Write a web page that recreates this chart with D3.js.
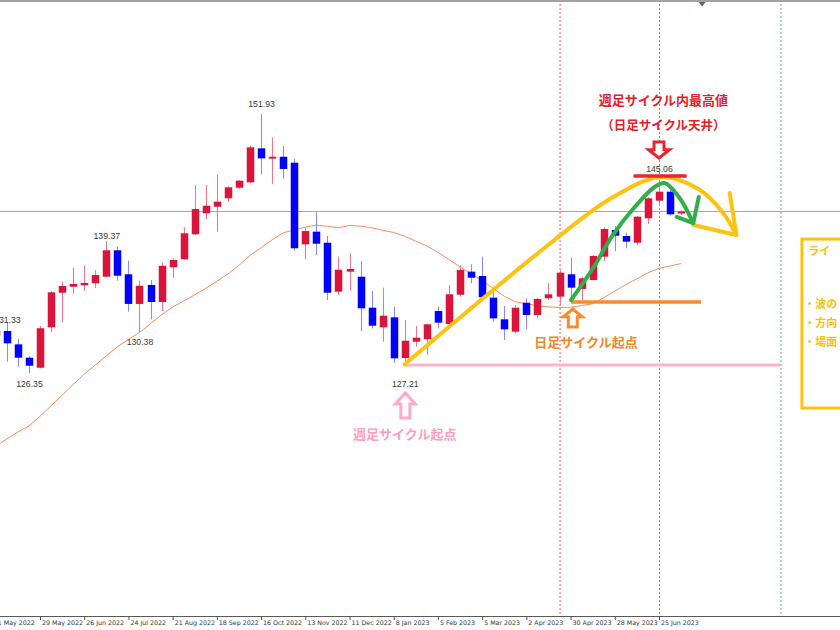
<!DOCTYPE html>
<html><head><meta charset="utf-8">
<script src="https://cdn.jsdelivr.net/npm/d3@7"></script>
<style>html,body{margin:0;padding:0;background:#fff;overflow:hidden}svg{display:block}</style>
</head><body><svg id="c" width="840" height="630"></svg>
<script>
// ---------- DATA ----------
const weeks = ["2022-05-01","2022-05-08","2022-05-15","2022-05-22","2022-05-29","2022-06-05","2022-06-12","2022-06-19","2022-06-26","2022-07-03","2022-07-10","2022-07-17","2022-07-24","2022-07-31","2022-08-07","2022-08-14","2022-08-21","2022-08-28","2022-09-04","2022-09-11","2022-09-18","2022-09-25","2022-10-02","2022-10-09","2022-10-16","2022-10-23","2022-10-30","2022-11-06","2022-11-13","2022-11-20","2022-11-27","2022-12-04","2022-12-11","2022-12-18","2022-12-25","2023-01-01","2023-01-08","2023-01-15","2023-01-22","2023-01-29","2023-02-05","2023-02-12","2023-02-19","2023-02-26","2023-03-05","2023-03-12","2023-03-19","2023-03-26","2023-04-02","2023-04-09","2023-04-16","2023-04-23","2023-04-30","2023-05-07","2023-05-14","2023-05-21","2023-05-28","2023-06-04","2023-06-11","2023-06-18","2023-06-25","2023-07-02","2023-07-09"];
const open  = [130.00,130.50,129.18,127.86,126.87,130.86,134.28,134.87,135.01,135.21,135.86,138.47,136.10,133.17,135.04,133.36,136.79,137.58,140.05,142.12,142.77,143.60,144.65,145.18,148.54,147.52,147.71,147.12,139.06,140.31,139.22,134.38,136.36,135.86,132.80,130.86,131.85,127.83,129.44,129.68,132.47,131.19,134.08,136.36,135.93,133.79,131.65,130.43,133.29,132.08,133.73,133.89,136.10,134.65,135.53,137.84,140.47,139.88,139.22,141.63,143.37,144.26,142.10];
const high  = [131.00,131.33,129.71,128.03,130.99,134.45,135.37,136.75,136.95,136.52,139.37,138.82,137.44,135.47,135.53,137.24,137.68,140.74,144.92,144.92,145.91,144.82,145.41,148.80,151.93,149.63,148.77,147.49,140.70,142.22,139.88,137.84,138.17,137.41,134.45,134.78,132.90,131.58,130.99,131.20,132.90,135.04,137.02,137.09,137.84,134.72,132.97,133.07,133.73,133.79,135.21,136.52,137.74,135.86,138.00,140.74,140.87,140.21,141.86,143.70,145.06,144.42,142.45];
const low   = [129.80,127.47,126.97,126.35,126.80,130.37,131.36,134.15,134.45,134.74,135.80,135.47,132.40,130.38,131.65,132.47,135.76,137.50,139.98,141.53,140.30,143.27,144.51,145.10,145.97,145.02,145.54,138.43,137.58,138.00,133.56,134.05,134.48,130.50,130.76,129.44,127.37,127.21,128.95,128.13,130.76,131.10,133.89,135.21,133.73,131.42,129.61,130.27,130.66,131.75,133.56,133.07,133.73,133.56,135.50,137.41,138.40,138.67,138.99,141.07,142.94,141.90,141.95];
const close = [130.50,129.28,127.86,127.07,130.77,134.32,134.94,135.14,135.24,136.03,138.47,135.96,133.17,134.97,133.36,136.94,137.51,140.15,142.55,142.87,143.27,144.69,145.34,148.64,147.55,147.71,146.50,138.67,140.37,139.12,134.28,136.55,136.62,132.74,131.02,132.01,127.80,129.54,129.84,131.16,131.32,134.12,136.52,135.76,133.83,131.75,130.66,132.80,132.08,133.66,134.12,136.26,134.78,135.70,137.91,140.57,139.91,139.32,141.79,143.60,144.26,142.02,142.30];
const movingAvg = [119.14,119.83,120.52,121.12,122.07,123.12,124.16,125.20,126.23,127.14,128.04,128.95,129.66,130.36,131.22,132.10,132.86,133.47,134.07,134.71,135.42,136.13,136.99,137.95,138.72,139.50,140.20,140.48,140.76,140.95,140.85,140.69,140.92,140.86,140.70,140.44,140.23,139.85,139.37,138.89,138.27,137.55,136.82,136.16,135.50,134.69,133.93,133.39,133.19,132.99,132.88,132.82,132.84,133.02,133.19,133.78,134.44,135.08,135.66,136.24,136.68,136.92,137.16];
const tickLabels = ["1 May 2022","29 May 2022","26 Jun 2022","24 Jul 2022","21 Aug 2022","18 Sep 2022","16 Oct 2022","13 Nov 2022","11 Dec 2022","8 Jan 2023","5 Feb 2023","5 Mar 2023","2 Apr 2023","30 Apr 2023","28 May 2023","25 Jun 2023"];
const priceLabelWeeks  = ["2022-05-08","2022-05-22","2022-07-10","2022-07-31","2022-10-16","2023-01-15","2023-06-25"];
const priceLabelValues = [131.33,126.35,139.37,130.38,151.93,127.21,145.06];
const currentPrice = 142.35;
// annotation paths in (candle index, price)
const yellowArc   = [[37.0,127.21],[43.9,133.56],[50.2,139.19],[55.7,143.63],[60.2,145.71],[63.6,144.5],[65.7,142.3],[67.0,139.98]];
const yellowHead  = [[63.1,140.97],[67.0,139.98],[66.4,144.13]];
const greenArc    = [[52.05,133.56],[54.1,136.82],[55.7,139.78],[57.8,142.74],[59.6,144.72],[60.5,145.11],[61.8,143.73],[63.1,141.16]];
const greenHead   = [[61.6,141.76],[63.1,141.16],[63.6,143.73]];
const redLevel    = {from:57.7, to:62.5, price:145.81};
const orangeLevel = {from:52.05, to:63.8, price:133.36};
const pinkLevel   = {from:37.0, to:71.0, price:127.14};
const vMarks      = {red:51.05, blue:60, lightBlue:71.03, shift:63.9};
const titleTexts  = ["週足サイクル内最高値","（日足サイクル天井）"];
const weeklyText  = "週足サイクル起点";
const dailyText   = "日足サイクル起点";
const boxTexts    = ["ライ","・波の","・方向","・場面"];

// ---------- SCALES ----------
const svg = d3.select("#c");
const W = 840, H = 630, axisY = 616;
const pD = d3.utcParse("%Y-%m-%d"), pT = d3.utcParse("%d %b %Y");
const x  = d3.scaleUtc().domain([pD("2022-05-29"), pD("2023-06-25")]).range([40, 659]);
const xi = d3.scaleLinear().domain([4, 60]).range([40, 659]);
const y  = d3.scaleLinear().domain([102.35, 163.19]).range([616, 0]);
const candles = weeks.map((w,i)=>({d:pD(w),o:open[i],h:high[i],l:low[i],c:close[i],ma:movingAvg[i]}));

svg.append("rect").attr("width",W).attr("height",H).attr("fill","#fff");
svg.append("defs").append("clipPath").attr("id","clip").append("rect").attr("x",0).attr("y",2).attr("width",W).attr("height",axisY-2);
const g = svg.append("g").attr("clip-path","url(#clip)");

// vertical markers
g.append("line").attr("x1",xi(vMarks.red)).attr("x2",xi(vMarks.red)).attr("y1",0).attr("y2",axisY)
  .attr("stroke","#ff5a5a").attr("stroke-width",1).attr("stroke-dasharray","2,2");
g.append("line").attr("x1",Math.round(xi(vMarks.blue))+0.5).attr("x2",Math.round(xi(vMarks.blue))+0.5).attr("y1",0).attr("y2",axisY)
  .attr("stroke","#4f9bf5").attr("stroke-width",1).attr("stroke-dasharray","2,2");
g.append("line").attr("x1",xi(vMarks.lightBlue)).attr("x2",xi(vMarks.lightBlue)).attr("y1",0).attr("y2",axisY)
  .attr("stroke","#a6ccff").attr("stroke-width",2).attr("stroke-dasharray","2,2");
// current price line
g.append("line").attr("x1",0).attr("x2",W).attr("y1",Math.round(y(currentPrice))+0.5).attr("y2",Math.round(y(currentPrice))+0.5)
  .attr("stroke","#a4abb4").attr("stroke-width",1);

// moving average
g.append("path").datum(candles).attr("fill","none").attr("stroke","#ff8a5c").attr("stroke-width",1)
  .attr("d", d3.line().x(d=>x(d.d)).y(d=>y(d.ma)));

// candles
const bw = 7.5;
const cg = g.append("g");
candles.forEach(d=>{
  const up = d.c >= d.o;
  const cx = Math.round(x(d.d));
  cg.append("line").attr("x1",cx+0.5).attr("x2",cx+0.5).attr("y1",y(d.h)).attr("y2",y(d.l))
    .attr("stroke", up ? "#ee7890" : "#8a8aff").attr("stroke-width",1.1);
  const top = y(Math.max(d.o,d.c)), bot = y(Math.min(d.o,d.c));
  cg.append("rect").attr("x",cx+0.5-bw/2).attr("y",top).attr("width",bw).attr("height",Math.max(1.5,bot-top))
    .attr("fill", up ? "#dc143c" : "#0000ff");
});

// levels
function level(L,color,w){
  g.append("line").attr("x1",xi(L.from)).attr("x2",xi(L.to)).attr("y1",y(L.price)).attr("y2",y(L.price))
    .attr("stroke",color).attr("stroke-width",w);
}
level(pinkLevel,"#ffb3c9",3);
level(orangeLevel,"#f98a2e",3.5);

const curveLine = d3.line().x(d=>xi(d[0])).y(d=>y(d[1])).curve(d3.curveCatmullRom.alpha(0.5));
const straight = d3.line().x(d=>xi(d[0])).y(d=>y(d[1]));
g.append("path").attr("d", curveLine(yellowArc)).attr("fill","none")
  .attr("stroke","#ffc20e").attr("stroke-width",4).attr("stroke-linecap","round");
g.append("path").attr("d", straight(yellowHead)).attr("fill","none")
  .attr("stroke","#ffc20e").attr("stroke-width",4).attr("stroke-linejoin","round").attr("stroke-linecap","round");
g.append("path").attr("d", curveLine(greenArc)).attr("fill","none")
  .attr("stroke","#2fae4a").attr("stroke-width",4).attr("stroke-linecap","round");
g.append("path").attr("d", straight(greenHead)).attr("fill","none")
  .attr("stroke","#2fae4a").attr("stroke-width",4).attr("stroke-linejoin","round").attr("stroke-linecap","round");
level(redLevel,"#e8262e",3.5);

// hollow arrows
function arrow(cx, yA, yH, yB, sw, hw, color){
  const p = `M${cx-sw},${yA}L${cx+sw},${yA}L${cx+sw},${yH}L${cx+hw},${yH}L${cx},${yB}L${cx-hw},${yH}L${cx-sw},${yH}Z`;
  g.append("path").attr("d",p).attr("fill","#fff").attr("stroke",color).attr("stroke-width",3).attr("stroke-linejoin","miter");
}
arrow(xi(60), y(149.16), y(148.4), y(147.58), 5, 10.5, "#e8262e");
arrow(xi(37.05), y(121.91), y(123.3), y(124.37), 4.5, 10, "#ffaac6");
arrow(xi(52.2), y(130.89), y(131.9), y(132.67), 4.5, 9.5, "#f98a2e");

// Japanese annotations
const jp = "'Noto Sans CJK JP','Noto Sans',sans-serif";
g.append("text").attr("x",xi(60.4)).attr("y",y(152.82)).attr("text-anchor","middle").attr("font-family",jp)
  .attr("font-weight","bold").attr("font-size",13).attr("fill","#e8202a").text(titleTexts[0]);
g.append("text").attr("x",xi(60.4)).attr("y",y(150.35)).attr("text-anchor","middle").attr("font-family",jp)
  .attr("font-weight","bold").attr("font-size",12.5).attr("fill","#e8202a").text(titleTexts[1]);
g.append("text").attr("x",xi(37.0)).attr("y",y(119.83)).attr("text-anchor","middle").attr("font-family",jp)
  .attr("font-weight","bold").attr("font-size",13).attr("fill","#ffa0c0").text(weeklyText);
g.append("text").attr("x",xi(53.4)).attr("y",y(128.92)).attr("text-anchor","middle").attr("font-family",jp)
  .attr("font-weight","bold").attr("font-size",13).attr("fill","#f5862a").text(dailyText);

// right box
g.append("rect").attr("x",xi(72.93)).attr("y",y(139.58)).attr("width",120).attr("height",y(122.89)-y(139.58))
  .attr("fill","#fff").attr("stroke","#ffc20e").attr("stroke-width",3);
const bty = [138.0, 132.75, 130.9, 129.0];
boxTexts.forEach((t,i)=>{
  g.append("text").attr("x",xi(73.5) + (i===0?0:-4)).attr("y",y(bty[i])).attr("font-family",jp).attr("font-weight","bold")
    .attr("font-size",11).attr("fill","#ffc000").text(t);
});

// price labels
const dyMap = {"151.93":-7,"145.06":-12,"131.33":0,"139.37":-2,"126.35":14,"130.38":12.5,"127.21":23};
priceLabelValues.forEach((v,i)=>{
  const t = v.toFixed(2);
  g.append("text").attr("x",x(pD(priceLabelWeeks[i]))+0.5).attr("y",y(v) + dyMap[t]).attr("text-anchor","middle")
    .attr("font-family","'Liberation Sans',Arial,sans-serif").attr("font-size",8.7).attr("fill","#3a3a3a").text(t);
});

// top border and shift marker
svg.append("rect").attr("x",0).attr("y",0).attr("width",W).attr("height",2).attr("fill","#a2a2a2");
const sx = xi(vMarks.shift);
svg.append("path").attr("d",`M${sx-3.5},2L${sx+3.5},2L${sx},6.5Z`).attr("fill","#5a6878");

// x axis
svg.append("line").attr("x1",0).attr("x2",W).attr("y1",axisY+0.5).attr("y2",axisY+0.5).attr("stroke","#5a5a5a").attr("stroke-width",1);
const ax = svg.append("g").attr("transform",`translate(0,${axisY})`)
  .call(d3.axisBottom(x).tickValues(tickLabels.map(pT)).tickFormat((d,i)=>tickLabels[i]).tickSize(4).tickPadding(2));
ax.select(".domain").remove();
ax.selectAll(".tick line").attr("stroke","#555");
ax.selectAll(".tick text").attr("text-anchor","start").attr("dx",1.5).attr("dy","0.4em")
  .attr("font-family","'DejaVu Sans',Tahoma,sans-serif").attr("font-size",6.3).attr("fill","#333");
</script>
</body></html>
